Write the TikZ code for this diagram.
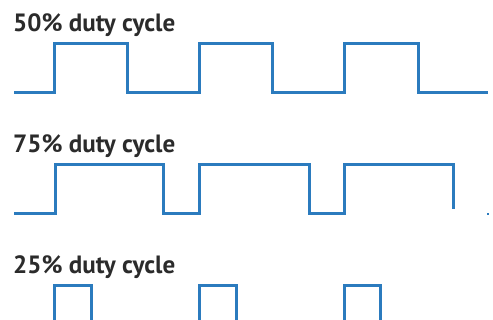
\documentclass[tikz,border=0pt]{standalone}
\usepackage{fontspec}
\setmainfont{PT Sans}
\definecolor{wave}{HTML}{2B7BBE}
\definecolor{txt}{HTML}{2B2B2B}
\begin{document}
\begin{tikzpicture}[x=1pt,y=-1pt,
  wavestyle/.style={draw=wave,line width=3pt,line join=miter},
  title/.style={anchor=base west,inner sep=0pt,text=txt,font=\fontsize{25}{28}\selectfont\bfseries}]
\useasboundingbox[fill=white] (0,0) rectangle (493,320);
\node[title] (t50) at (13,32) {50\% duty cycle};
\node[title] (t75) at (13,153) {75\% duty cycle};
\node[title] (t25) at (13,274) {25\% duty cycle};
% 50%
\draw[wavestyle] (14,93) -- (54,93) -- (54,44) -- (127,44) -- (127,93) -- (199,93) -- (199,44) -- (272,44) -- (272,93) -- (344,93) -- (344,44) -- (418,44) -- (418,93) -- (488,93);
% 75%
\draw[wavestyle] (14,214) -- (55,214) -- (55,165) -- (163,165) -- (163,214) -- (199,214) -- (199,165) -- (309,165) -- (309,214) -- (344,214) -- (344,165) -- (453,165) -- (453,209);
\fill[wave] (487,213) rectangle (489,215);
% 25%
\draw[wavestyle] (54,320) -- (54,286) -- (91,286) -- (91,320);
\draw[wavestyle] (199,320) -- (199,286) -- (236,286) -- (236,320);
\draw[wavestyle] (344,320) -- (344,286) -- (380,286) -- (380,320);
\end{tikzpicture}
\end{document}
